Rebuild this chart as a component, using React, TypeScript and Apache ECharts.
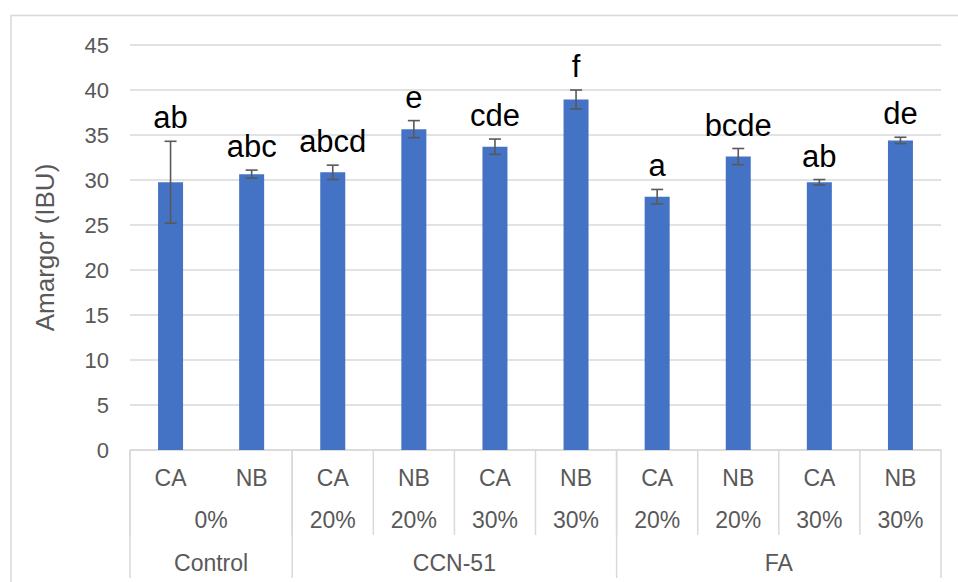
import React, { useEffect, useRef } from "react";
import * as echarts from "echarts";

// Bitterness (IBU) per treatment: mean, standard deviation and significance letters
const categories = ["CA", "NB", "CA", "NB", "CA", "NB", "CA", "NB", "CA", "NB"];
const meanIBU = [29.75, 30.65, 30.85, 35.65, 33.7, 38.95, 28.15, 32.6, 29.75, 34.4];
const errIBU = [4.55, 0.45, 0.8, 0.95, 0.85, 1.05, 0.8, 0.9, 0.3, 0.35];
const letters = ["ab", "abc", "abcd", "e", "cde", "f", "a", "bcde", "ab", "de"];

// Second and third level of the category axis: [label, number of categories spanned]
const doseGroups: [string, number][] = [
  ["0%", 2],
  ["20%", 1],
  ["20%", 1],
  ["30%", 1],
  ["30%", 1],
  ["20%", 1],
  ["20%", 1],
  ["30%", 1],
  ["30%", 1],
];
const cultivarGroups: [string, number][] = [
  ["Control", 2],
  ["CCN-51", 4],
  ["FA", 4],
];

const yTicks = { min: 0, max: 45, interval: 5 };

const FONT = "'Liberation Sans', Arial, Helvetica, sans-serif";
const GREY_TEXT = "#595959";
const LINE = "#d9d9d9";
const BAR = "#4472C4";

export default function App() {
  const ref = useRef<HTMLDivElement>(null);

  useEffect(() => {
    if (!ref.current) return;
    const chart = echarts.init(ref.current, null, { renderer: "svg" });

    const option: any = {
      animation: false,
      backgroundColor: "#ffffff",
      grid: { left: 130, right: 17, top: 45, bottom: 132 },
      xAxis: {
        type: "category",
        data: categories,
        axisLine: { show: true, lineStyle: { color: LINE, width: 1.5 } },
        axisTick: { show: false },
        axisLabel: {
          color: GREY_TEXT,
          fontSize: 23,
          fontFamily: FONT,
          margin: 16,
          interval: 0,
        },
      },
      yAxis: {
        type: "value",
        min: yTicks.min,
        max: yTicks.max,
        interval: yTicks.interval,
        name: "Amargor (IBU)",
        nameLocation: "middle",
        nameGap: 72,
        nameTextStyle: { color: GREY_TEXT, fontSize: 26, fontFamily: FONT },
        axisLine: { show: false },
        axisTick: { show: false },
        axisLabel: { color: GREY_TEXT, fontSize: 22, fontFamily: FONT, margin: 21 },
        splitLine: { lineStyle: { color: LINE, width: 1.5 } },
      },
      series: [
        {
          type: "bar",
          data: meanIBU,
          barWidth: 25,
          itemStyle: { color: BAR },
        },
        {
          type: "custom",
          data: meanIBU.map((v, i) => [i, v - errIBU[i], v + errIBU[i]]),
          encode: { x: 0, y: [1, 2] },
          z: 5,
          renderItem: (params: any, api: any) => {
            const hi = api.coord([api.value(0), api.value(2)]);
            const lo = api.coord([api.value(0), api.value(1)]);
            const cap = 6;
            const stroke = { stroke: GREY_TEXT, lineWidth: 1.6 };
            return {
              type: "group",
              children: [
                { type: "line", shape: { x1: hi[0], y1: hi[1], x2: lo[0], y2: lo[1] }, style: stroke },
                { type: "line", shape: { x1: hi[0] - cap, y1: hi[1], x2: hi[0] + cap, y2: hi[1] }, style: stroke },
                { type: "line", shape: { x1: lo[0] - cap, y1: lo[1], x2: lo[0] + cap, y2: lo[1] }, style: stroke },
                {
                  type: "text",
                  style: {
                    text: letters[params.dataIndex],
                    x: hi[0],
                    y: hi[1] - 8,
                    align: "center",
                    verticalAlign: "bottom",
                    fill: "#000000",
                    fontSize: 31,
                    fontFamily: FONT,
                  },
                },
              ],
            };
          },
        },
      ],
    };

    chart.setOption(option);

    // Build the lower rows of the grouped category axis from the axis scale
    const cx = (i: number) => chart.convertToPixel({ xAxisIndex: 0 }, i) as number;
    const step = cx(1) - cx(0);
    const edge = (i: number) => cx(0) - step / 2 + i * step;
    const axisY = chart.convertToPixel({ yAxisIndex: 0 }, 0) as number;
    const row2Bottom = axisY + 85;
    const fullBottom = axisY + 128;

    const graphics: any[] = [
      {
        type: "rect",
        shape: { x: 11, y: 15.5, width: 1000, height: 700 },
        style: { fill: "none", stroke: LINE, lineWidth: 1.5 },
        silent: true,
      },
    ];

    const vline = (x: number, y2: number) => ({
      type: "line",
      shape: { x1: x, y1: axisY, x2: x, y2 },
      style: { stroke: LINE, lineWidth: 1.5 },
      silent: true,
    });

    // Dose row
    let start = 0;
    doseGroups.forEach(([label, span]) => {
      const x0 = edge(start);
      const x1 = edge(start + span);
      graphics.push(vline(x0, row2Bottom));
      graphics.push({
        type: "text",
        style: {
          text: label,
          x: (x0 + x1) / 2,
          y: axisY + 70,
          align: "center",
          verticalAlign: "middle",
          fill: GREY_TEXT,
          fontSize: 23,
          fontFamily: FONT,
        },
      });
      start += span;
    });

    // Cultivar row
    start = 0;
    cultivarGroups.forEach(([label, span]) => {
      const x0 = edge(start);
      const x1 = edge(start + span);
      graphics.push(vline(x0, fullBottom));
      graphics.push({
        type: "text",
        style: {
          text: label,
          x: (x0 + x1) / 2,
          y: axisY + 113,
          align: "center",
          verticalAlign: "middle",
          fill: GREY_TEXT,
          fontSize: 23,
          fontFamily: FONT,
        },
      });
      start += span;
    });
    graphics.push(vline(edge(categories.length), fullBottom));

    chart.setOption({ graphic: graphics });

    return () => chart.dispose();
  }, []);

  return (
    <div
      ref={ref}
      style={{ position: "fixed", left: 0, top: 0, width: 958, height: 582 }}
    />
  );
}
